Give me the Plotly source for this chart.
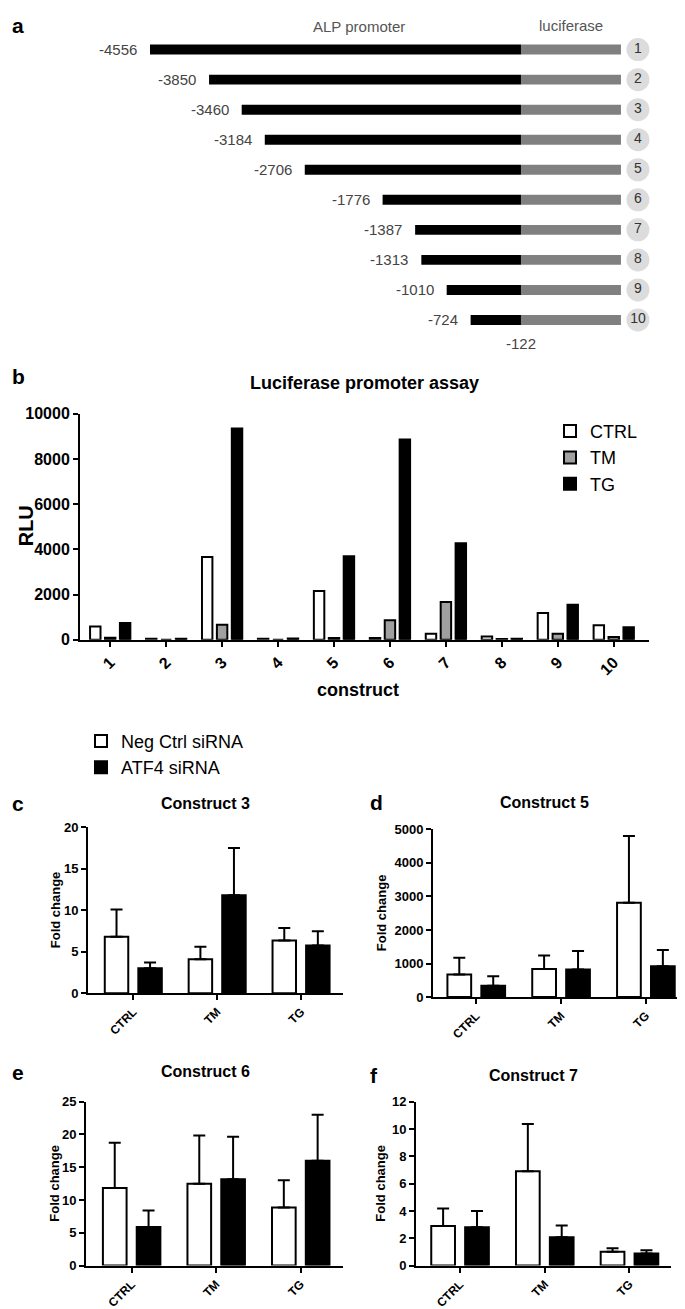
import plotly.graph_objects as go

W, H = 685, 1309
def fx(p): return p / W
def fy(p): return 1 - p / H

FONT = "Liberation Sans, Arial, sans-serif"

# ---------------- Panel a data ----------------
construct_ids = list(range(1, 11))
promoter_start = [-4556, -3850, -3460, -3184, -2706, -1776, -1387, -1313, -1010, -724]
promoter_end = -122

# ---------------- Panel b data ----------------
constructs = ["1", "2", "3", "4", "5", "6", "7", "8", "9", "10"]
rlu_ctrl = [590, 45, 3660, 45, 2160, 75, 270, 150, 1180, 640]
rlu_tm = [90, 0, 670, 0, 75, 860, 1670, 30, 270, 120]
rlu_tg = [740, 45, 9350, 60, 3700, 8860, 4270, 45, 1550, 560]

# ---------------- Panels c-f data ----------------
treatments = ["CTRL", "TM", "TG"]
c3_neg = [6.8, 4.1, 6.35]
c3_neg_err = [3.3, 1.5, 1.5]
c3_atf = [3.0, 11.8, 5.75]
c3_atf_err = [0.7, 5.7, 1.7]

c5_neg = [670, 840, 2810]
c5_neg_err = [500, 400, 1990]
c5_atf = [340, 820, 920]
c5_atf_err = [280, 550, 480]

c6_neg = [11.85, 12.5, 8.85]
c6_neg_err = [6.9, 7.35, 4.15]
c6_atf = [5.9, 13.15, 16.0]
c6_atf_err = [2.5, 6.5, 7.0]

c7_neg = [2.9, 6.9, 1.02]
c7_neg_err = [1.27, 3.46, 0.24]
c7_atf = [2.8, 2.07, 0.88]
c7_atf_err = [1.2, 0.86, 0.24]

fig = go.Figure()

# ================= Panel a =================
LUC_LEN = 1195      # drawn length of luciferase segment (schematic)
CIRCLE_X = 1276     # position of the numbered circles (schematic)
BAR_T = 0.33
fig.add_trace(go.Bar(
    y=construct_ids, x=[promoter_end - s for s in promoter_start], base=promoter_start,
    orientation="h", width=BAR_T, offset=-BAR_T / 2,
    marker=dict(color="black", line=dict(width=0)),
    xaxis="x", yaxis="y", showlegend=False, hoverinfo="skip"))
fig.add_trace(go.Bar(
    y=construct_ids, x=[LUC_LEN] * len(construct_ids), base=[promoter_end] * len(construct_ids),
    orientation="h", width=BAR_T, offset=-BAR_T / 2,
    marker=dict(color="#808080", line=dict(width=0)),
    xaxis="x", yaxis="y", showlegend=False, hoverinfo="skip"))
fig.add_trace(go.Scatter(
    x=[CIRCLE_X] * len(construct_ids), y=construct_ids, mode="markers+text",
    text=[str(i) for i in construct_ids], textposition="middle center",
    textfont=dict(family=FONT, size=14, color="#333333"),
    marker=dict(size=23, color="#dcdcdc", line=dict(width=0)),
    xaxis="x", yaxis="y", showlegend=False, hoverinfo="skip"))

annotations = []
for cid, s in zip(construct_ids, promoter_start):
    annotations.append(dict(x=s, y=cid, xref="x", yref="y", text=str(s), showarrow=False,
                            xanchor="right", yanchor="middle", xshift=-11,
                            font=dict(family=FONT, size=15, color="#444444")))
annotations.append(dict(x=promoter_end, y=fy(332), xref="x", yref="paper", text=str(promoter_end),
                        showarrow=False, xanchor="center", yanchor="middle",
                        font=dict(family=FONT, size=15, color="#444444")))
annotations.append(dict(x=fx(351), y=fy(11), xref="paper", yref="paper", text="ALP promoter",
                        showarrow=False, xanchor="center", yanchor="middle",
                        font=dict(family=FONT, size=15, color="#555555")))
annotations.append(dict(x=fx(563), y=fy(10), xref="paper", yref="paper", text="luciferase",
                        showarrow=False, xanchor="center", yanchor="middle",
                        font=dict(family=FONT, size=15, color="#555555")))

# ================= Panel b =================
for name, vals, col in [("CTRL", rlu_ctrl, "white"), ("TM", rlu_tm, "#a0a0a0"), ("TG", rlu_tg, "black")]:
    fig.add_trace(go.Bar(
        x=constructs, y=vals, name=name, xaxis="x2", yaxis="y2",
        marker=dict(color=col, line=dict(color="black", width=2)),
        legend="legend", hoverinfo="skip"))

# ================= Panels c-f =================
panels = [
    ("x3", "y3", c3_neg, c3_neg_err, c3_atf, c3_atf_err, True),
    ("x4", "y4", c5_neg, c5_neg_err, c5_atf, c5_atf_err, False),
    ("x5", "y5", c6_neg, c6_neg_err, c6_atf, c6_atf_err, False),
    ("x6", "y6", c7_neg, c7_neg_err, c7_atf, c7_atf_err, False),
]
for xa, ya, neg, negerr, atf, atferr, show in panels:
    fig.add_trace(go.Bar(
        x=treatments, y=neg, name="Neg Ctrl siRNA", xaxis=xa, yaxis=ya,
        marker=dict(color="white", line=dict(color="black", width=2)),
        error_y=dict(type="data", symmetric=False, array=negerr, arrayminus=[0] * len(negerr),
                     color="black", thickness=2, width=6),
        legend="legend2", legendgroup="neg", showlegend=show, hoverinfo="skip"))
    fig.add_trace(go.Bar(
        x=treatments, y=atf, name="ATF4 siRNA", xaxis=xa, yaxis=ya,
        marker=dict(color="black", line=dict(color="black", width=2)),
        error_y=dict(type="data", symmetric=False, array=atferr, arrayminus=[0] * len(atferr),
                     color="black", thickness=2, width=6),
        legend="legend2", legendgroup="atf", showlegend=show, hoverinfo="skip"))

# ---------------- axes ----------------
def xcat(domain, anchor, rng, size):
    return dict(domain=domain, anchor=anchor, type="category", range=rng,
                showline=True, linecolor="black", linewidth=2, ticks="outside",
                ticklen=5, tickwidth=2, tickcolor="black", tickangle=-45,
                tickfont=dict(family=FONT, size=size, color="black", weight="bold"),
                showgrid=False, zeroline=False, fixedrange=True)

def ylin(domain, anchor, rng, dtick, size):
    return dict(domain=domain, anchor=anchor, range=rng, dtick=dtick, tick0=0,
                tickformat="d",
                showline=True, linecolor="black", linewidth=2, ticks="outside",
                ticklen=5, tickwidth=2, tickcolor="black",
                tickfont=dict(family=FONT, size=size, color="black", weight="bold"),
                showgrid=False, zeroline=False, fixedrange=True)

layout = dict(
    width=W, height=H, autosize=False,
    margin=dict(l=0, r=0, t=0, b=0),
    paper_bgcolor="white", plot_bgcolor="white",
    barmode="group", bargap=0.2, bargroupgap=0.3,
    font=dict(family=FONT, color="black"),
    xaxis=dict(domain=[0, 1], anchor="y", range=[-6253, 1934], visible=False, fixedrange=True),
    yaxis=dict(domain=[fy(323.2), fy(18.8)], anchor="x", range=[10.5, 0.5], visible=False, fixedrange=True),
    xaxis2=xcat([fx(72), fx(641)], "y2", [-0.54, 9.63], 16),
    yaxis2=ylin([fy(632), fy(403)], "x2", [0, 10000], 2000, 16),
    xaxis3=xcat([fx(80), fx(335)], "y3", [-0.54, 2.5], 12),
    yaxis3=ylin([fy(990), fy(822)], "x3", [0, 20], 5, 13),
    xaxis4=xcat([fx(425), fx(682)], "y4", [-0.51, 2.52], 12),
    yaxis4=ylin([fy(994), fy(824)], "x4", [0, 5000], 1000, 13),
    xaxis5=xcat([fx(78), fx(335)], "y5", [-0.54, 2.5], 12),
    yaxis5=ylin([fy(1266), fy(1100)], "x5", [0, 25], 5, 13),
    xaxis6=xcat([fx(408), fx(663)], "y6", [-0.52, 2.49], 12),
    yaxis6=ylin([fy(1266), fy(1100)], "x6", [0, 12], 2, 13),
    legend=dict(x=fx(542), y=fy(402), xanchor="left", yanchor="top",
                font=dict(family=FONT, size=18, color="black"),
                bgcolor="rgba(0,0,0,0)", tracegroupgap=0, itemwidth=30),
    legend2=dict(x=fx(73), y=fy(716), xanchor="left", yanchor="top",
                 font=dict(family=FONT, size=18, color="black"),
                 bgcolor="rgba(0,0,0,0)", tracegroupgap=0, itemwidth=30),
)

def txt(x, y, s, size, bold=True, angle=0):
    annotations.append(dict(x=fx(x), y=fy(y), xref="paper", yref="paper", text=s,
                            showarrow=False, xanchor="center", yanchor="middle", textangle=angle,
                            font=dict(family=FONT, size=size, color="black",
                                      weight="bold" if bold else "normal")))

# panel letters
txt(10, 10, "a", 21)
txt(10, 365, "b", 21)
txt(10, 798, "c", 21)
txt(368, 797, "d", 21)
txt(10, 1070, "e", 21)
txt(366, 1073, "f", 21)
# panel b labels
txt(356, 372, "Luciferase promoter assay", 18)
txt(350, 683, "construct", 18)
txt(18, 517, "RLU", 20, angle=-90)
# panels c-f titles and y labels
txt(197, 798, "Construct 3", 16)
txt(536, 797, "Construct 5", 16)
txt(197, 1069, "Construct 6", 16)
txt(525, 1073, "Construct 7", 16)
txt(47, 906, "Fold change", 13, angle=-90)
txt(373, 909, "Fold change", 13, angle=-90)
txt(47, 1183, "Fold change", 13, angle=-90)
txt(373, 1183, "Fold change", 13, angle=-90)

layout["annotations"] = annotations
fig.update_layout(**layout)
fig.write_html("out.html")
